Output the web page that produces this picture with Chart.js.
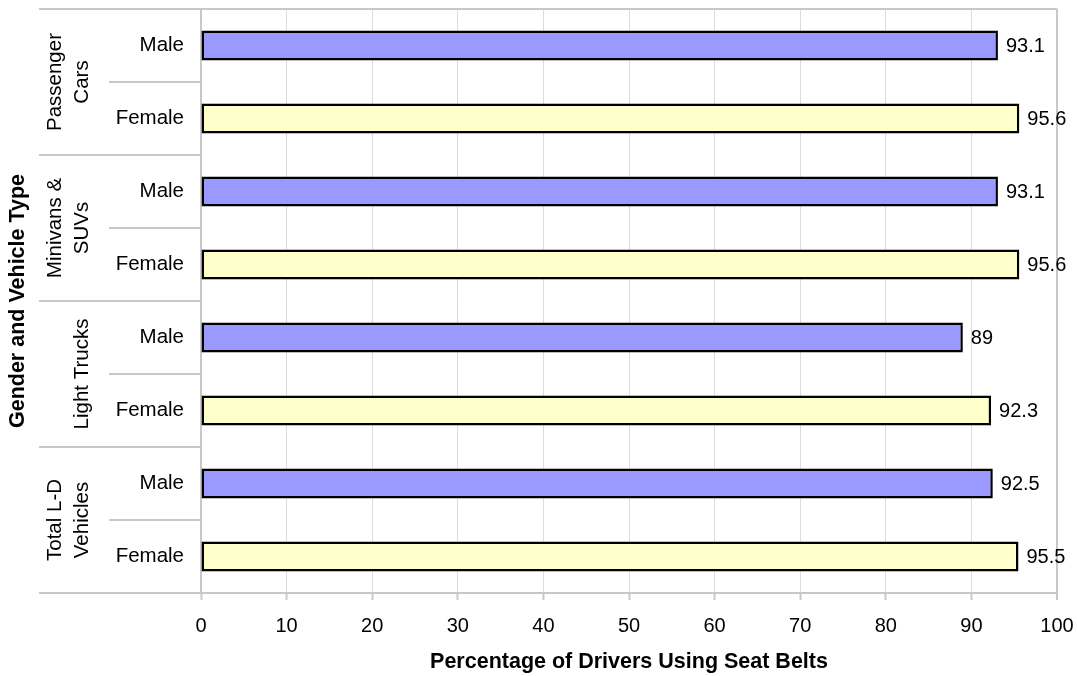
<!DOCTYPE html>
<html>
<head>
<meta charset="utf-8">
<script src="https://cdn.jsdelivr.net/npm/chart.js@4.4.1/dist/chart.umd.min.js"></script>
<style>
  html, body { margin: 0; padding: 0; background: #ffffff; }
  #wrap { width: 1077px; height: 676px; }
</style>
</head>
<body>
<div id="wrap"><canvas id="c" width="1077" height="676"></canvas></div>
<script>
const groups = [["Passenger", "Cars"], ["Minivans &", "SUVs"], ["Light Trucks"], ["Total L-D", "Vehicles"]];
const genders = ["Male", "Female"];
const categories = ["Male", "Female", "Male", "Female", "Male", "Female", "Male", "Female"];
const values = [93.1, 95.6, 93.1, 95.6, 89, 92.3, 92.5, 95.5];
const xTicks = [0, 10, 20, 30, 40, 50, 60, 70, 80, 90, 100];
const xTitle = "Percentage of Drivers Using Seat Belts";
const yTitle = "Gender and Vehicle Type";

const FONT = '"Liberation Sans", Arial, sans-serif';
const colorFor = { Male: '#9999ff', Female: '#ffffcc' };

const decor = {
  id: 'decor',
  afterDraw(chart) {
    const ctx = chart.ctx;
    const area = chart.chartArea;
    const n = categories.length;
    const step = (area.bottom - area.top) / n;
    ctx.save();
    ctx.strokeStyle = '#c8c8c8';
    ctx.lineWidth = 2;
    // top border
    ctx.beginPath();
    ctx.moveTo(39, area.top); ctx.lineTo(area.right, area.top);
    ctx.stroke();
    // separators
    for (let i = 1; i <= n; i++) {
      const yy = area.top + step * i;
      const isGroup = i % 2 === 0;
      ctx.beginPath();
      ctx.moveTo(isGroup ? 39 : 109, yy);
      ctx.lineTo(area.left, yy);
      ctx.stroke();
    }
    // group labels
    ctx.fillStyle = '#000';
    ctx.font = '20.5px ' + FONT;
    ctx.textAlign = 'center';
    ctx.textBaseline = 'alphabetic';
    groups.forEach((lines, gi) => {
      const cy = area.top + step * (gi * 2 + 1);
      const lastX = 88, lh = 27;
      lines.forEach((t, li) => {
        const bx = lastX - (lines.length - 1 - li) * lh;
        ctx.save();
        ctx.translate(bx, cy);
        ctx.rotate(-Math.PI / 2);
        ctx.fillText(t, 0, 0);
        ctx.restore();
      });
    });
    // y title
    ctx.font = 'bold 21.5px ' + FONT;
    ctx.textBaseline = 'middle';
    ctx.save();
    ctx.translate(18, (area.top + area.bottom) / 2);
    ctx.rotate(-Math.PI / 2);
    ctx.fillText(yTitle, 0, 0);
    ctx.restore();
    // value labels
    ctx.font = '20px ' + FONT;
    ctx.textAlign = 'left';
    ctx.textBaseline = 'middle';
    const meta = chart.getDatasetMeta(0);
    meta.data.forEach((bar, i) => {
      ctx.fillText(String(values[i]), bar.x + 8, bar.y + 1);
    });
    ctx.restore();
  }
};

new Chart(document.getElementById('c'), {
  type: 'bar',
  data: {
    labels: categories,
    datasets: [{
      data: values,
      backgroundColor: categories.map(c => colorFor[c]),
      borderColor: '#000000',
      borderWidth: 2.5,
      borderSkipped: false,
      barPercentage: 0.41,
      categoryPercentage: 1.0
    }]
  },
  options: {
    indexAxis: 'y',
    responsive: false,
    animation: false,
    layout: { padding: { top: 9, right: 20, left: 0, bottom: 0 } },
    plugins: { legend: { display: false }, tooltip: { enabled: false }, title: { display: false } },
    scales: {
      x: {
        min: 0, max: 100,
        afterFit(s) { s.height = 83; s.paddingLeft = 0; s.paddingRight = 0; },
        afterBuildTicks(s) { s.ticks = xTicks.map(v => ({ value: v })); },
        grid: {
          color: ctx => (ctx.tick && ctx.tick.value === 100) ? '#c8c8c8' : '#dcdcdc',
          lineWidth: ctx => (ctx.tick && ctx.tick.value === 100) ? 2 : 1,
          tickLength: 7,
          tickColor: '#c8c8c8',
          tickWidth: 2
        },
        border: { display: true, color: '#c8c8c8', width: 2 },
        ticks: { color: '#000', font: { family: FONT, size: 20 }, padding: 14, maxRotation: 0 },
        title: { display: true, text: xTitle, color: '#000', font: { family: FONT, size: 21.5, weight: 'bold' }, padding: { top: 0, bottom: 1 } }
      },
      y: {
        afterFit(s) { s.width = 201; s.paddingTop = 0; s.paddingBottom = 0; },
        grid: { display: false, drawTicks: false },
        border: { display: true, color: '#c8c8c8', width: 2 },
        ticks: { color: '#000', font: { family: FONT, size: 20.5 }, padding: 17 }
      }
    }
  },
  plugins: [decor]
});
</script>
</body>
</html>
